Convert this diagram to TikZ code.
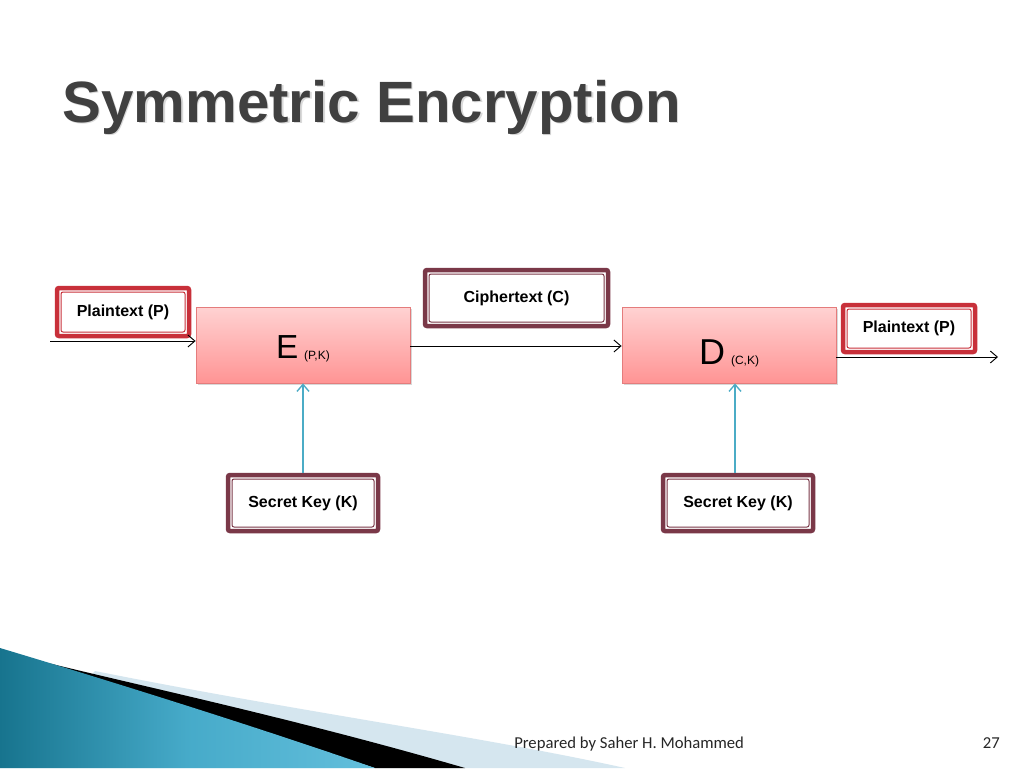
\documentclass[tikz,border=0pt]{standalone}
\usepackage{fontspec}
\setmainfont{Liberation Sans}
\newfontfamily\footfont{Carlito}
\usetikzlibrary{arrows.meta,shadows}
\newlength\pxu
\setlength\pxu{0.75pt}
\definecolor{titlegray}{HTML}{404040}
\definecolor{boxred}{HTML}{C8303A}
\definecolor{boxmaroon}{HTML}{7A3848}
\definecolor{pinktop}{HTML}{FFD2D2}
\definecolor{pinkbot}{HTML}{FF9494}
\definecolor{pinkline}{HTML}{E47C7C}
\definecolor{keyteal}{HTML}{4BACC6}
\definecolor{tealdark}{HTML}{17748E}
\definecolor{teallight}{HTML}{52B8D8}
\definecolor{paleblue}{HTML}{D5E6EF}
\tikzset{
  x=0.75pt, y=-0.75pt,
  dbox/.style={draw=#1, line width=4.5\pxu, rounded corners=2\pxu, fill=white,
    font=\bfseries\fontsize{12pt}{14pt}\selectfont, inner sep=0pt,
    drop shadow={shadow xshift=1.5\pxu, shadow yshift=-1.5\pxu, opacity=0.25},
    path picture={\draw[#1, line width=1\pxu]
      ([xshift=4\pxu,yshift=-4\pxu]path picture bounding box.north west) rectangle
      ([xshift=-4\pxu,yshift=4\pxu]path picture bounding box.south east);}},
  procbox/.style={draw=pinkline, line width=0.8\pxu, top color=pinktop, bottom color=pinkbot,
    minimum width=214\pxu, minimum height=76\pxu, inner sep=0pt,
    drop shadow={shadow xshift=2\pxu, shadow yshift=-2\pxu, opacity=0.3}},
  flow/.style={draw=black, line width=0.7pt, -{Straight Barb[length=5.25pt, width=9pt, line width=0.7pt]}},
  keyflow/.style={draw=keyteal, line width=1pt, -{Straight Barb[length=5.25pt, width=9pt, line width=1pt]}}
}
\begin{document}
\begin{tikzpicture}
\useasboundingbox[fill=white] (0,0) rectangle (1024,768);

% bottom decoration
\fill[paleblue] (95,671) .. controls (300,712) and (480,736) .. (625,768) -- (0,768) -- cycle;
\fill[black] (48,663) .. controls (150,688) and (300,720) .. (465,768) -- (375,768) -- cycle;
\shade[shading angle=70, left color=tealdark, right color=teallight!90!white, middle color=teallight!80!tealdark]
  (0,648) .. controls (120,684) and (260,728) .. (375,768) -- (0,768) -- cycle;

% title
\node[anchor=base west, text=black!15, font=\bfseries\fontsize{43.7pt}{50pt}\selectfont, inner sep=0pt]
  at (63.5,123.5) {Symmetric Encryption};
\node[anchor=base west, text=titlegray, font=\bfseries\fontsize{43.7pt}{50pt}\selectfont, inner sep=0pt]
  (title) at (62,122) {Symmetric Encryption};

% process boxes
\node[procbox] (E) at (303,345) {};
\node[anchor=base, inner sep=0pt] (Elab) at (303,358)
  {\fontsize{25pt}{28pt}\selectfont E\,\raisebox{-1pt}{\fontsize{9pt}{10pt}\selectfont(P,K)}};
\node[procbox] (D) at (729,345) {};
\node[anchor=base, inner sep=0pt] (Dlab) at (729,364)
  {\fontsize{27pt}{30pt}\selectfont D\,\raisebox{-0.5pt}{\fontsize{9pt}{10pt}\selectfont (C,K)}};

% text boxes
\node[dbox=boxred, minimum width=132\pxu, minimum height=48\pxu] (P1) at (123,312) {Plaintext (P)};
\node[dbox=boxmaroon, minimum width=183\pxu, minimum height=56\pxu] (C) at (516.5,298) {Ciphertext (C)};
\node[dbox=boxred, minimum width=132\pxu, minimum height=47\pxu] (P2) at (909,328.5) {Plaintext (P)};
\node[dbox=boxmaroon, minimum width=150\pxu, minimum height=56\pxu] (K1) at (303,503) {Secret Key (K)};
\node[dbox=boxmaroon, minimum width=150\pxu, minimum height=56\pxu] (K2) at (738,503) {Secret Key (K)};

% connectors
\coordinate (in) at (50,341);
\coordinate (out) at (998,357);
\draw[flow] (in) -- (in -| E.west);
\draw[flow] ([yshift=-1\pxu]E.east) -- ([yshift=-1\pxu]D.west);
\draw[flow] (D.east |- out) -- (out);
\draw[keyflow] (K1.north) -- (E.south);
\draw[keyflow] ([xshift=-3\pxu]K2.north) -- ([xshift=-3\pxu]K2.north |- D.south);

% footer
\node[anchor=base west, inner sep=0pt, font=\footfont\fontsize{12.5pt}{14pt}\selectfont, text=black!85]
  (foot) at (514,748) {Prepared by Saher H. Mohammed};
\node[anchor=base east, inner sep=0pt, font=\footfont\fontsize{12.5pt}{14pt}\selectfont, text=black!85]
  (page) at (1000,748) {27};
\end{tikzpicture}
\end{document}
